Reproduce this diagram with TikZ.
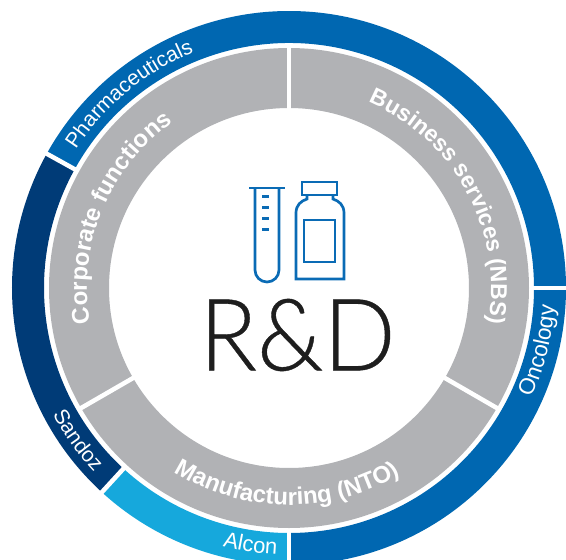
\documentclass[tikz,border=0pt]{standalone}
\usepackage{fontspec}
\setmainfont{Liberation Sans}
\newfontfamily\lightfont[FakeBold=0.4]{Lato Light}
\usetikzlibrary{decorations.text}
\definecolor{pharma}{HTML}{0067B1}
\definecolor{sandoz}{HTML}{003B77}
\definecolor{alcon}{HTML}{16A8DC}
\definecolor{greyring}{HTML}{B1B2B5}
\definecolor{iconblue}{HTML}{0A6BB5}
\definecolor{ink}{HTML}{1E1E1E}
\tikzset{
  x=1pt,y=1pt,
  sep/.style={draw=white,line width=4.5pt},
  ringlabel/.style 2 args={decorate,decoration={text along path,text align=center,
     text={|\fontsize{#1}{#1}\selectfont\color{white}|#2}}},
  greylabel/.style 2 args={decorate,decoration={text along path,text align=center,
     text={|\fontsize{#1}{#1}\selectfont\bfseries\color{white}|#2}}},
  icon/.style={draw=iconblue,line width=2.7pt}
}
\newcommand{\ringseg}[3]{% colour, start, end
  \fill[#1] ([shift={(289,-288)}]#2:277) arc[start angle=#2,end angle=#3,radius=277]
     -- ([shift={(289,-288)}]#3:245) arc[start angle=#3,end angle=#2,radius=245] -- cycle;}
\newcommand{\arclabel}[6]{% style, size, text, radius, start, end
  \path[#1={#2}{#3}] ([shift={(289,-288)}]#5:#4) arc[start angle=#5,end angle=#6,radius=#4];}
\begin{document}
\begin{tikzpicture}
\useasboundingbox (0,0) rectangle (566,-560);
\clip (0,0) rectangle (566,-560);
\coordinate (c) at (289,-288);
% outer ring
\ringseg{pharma}{0}{151}
\ringseg{sandoz}{151}{227.5}
\ringseg{alcon}{227.5}{270}
\ringseg{pharma}{270}{360}
\draw[sep] ([shift={(c)}]0:243) -- ([shift={(c)}]0:280);
\draw[sep] ([shift={(c)}]151:243) -- ([shift={(c)}]151:280);
\draw[sep] ([shift={(c)}]227.5:243) -- ([shift={(c)}]227.5:280);
\draw[sep] ([shift={(c)}]270:243) -- ([shift={(c)}]270:280);
% grey ring
\draw[greyring,line width=60pt] (c) circle[radius=210];
\draw[sep] ([shift={(c)}]90:178) -- ([shift={(c)}]90:243);
\draw[sep] ([shift={(c)}]210:178) -- ([shift={(c)}]210:243);
\draw[sep] ([shift={(c)}]330:178) -- ([shift={(c)}]330:243);
% labels on outer ring
\arclabel{ringlabel}{21}{Pharmaceuticals}{254}{159.5}{99.5}
\arclabel{ringlabel}{22.5}{Oncology}{266}{-39}{11}
\arclabel{ringlabel}{21}{Sandoz}{268}{190}{241.6}
\arclabel{ringlabel}{22}{Alcon}{267}{236.5}{286.5}
% labels on grey ring
\arclabel{greylabel}{24}{Corporate functions}{202}{205}{110}
\arclabel{greylabel}{23}{Business services (NBS)}{202}{85}{-28}
\arclabel{greylabel}{24}{Manufacturing (NTO)}{217}{220}{319}
% icons
\draw[icon] (249,-188) -- (285,-188);
\draw[icon] (255,-188) -- (255,-270) arc[start angle=180,end angle=360,radius=12] -- (279,-188);
\foreach \y in {196,207,218,229} \draw[icon,line width=3pt] (262,-\y) -- (269,-\y);
\draw[icon] (302,-182) rectangle (337,-195);
\draw[icon] (307,-195) -- (307,-199) .. controls (301,-201) and (296,-205) .. (296,-213) -- (296,-279) -- (344,-279) -- (344,-213) .. controls (344,-205) and (339,-201) .. (333,-199) -- (333,-195);
\draw[icon] (304,-220) rectangle (335,-262);
% title
\node[text=ink,inner sep=0pt,xscale=0.95,font=\lightfont\fontsize{100}{100}\selectfont] (rd) at (297.5,-335) {R\&D};
\end{tikzpicture}
\end{document}
